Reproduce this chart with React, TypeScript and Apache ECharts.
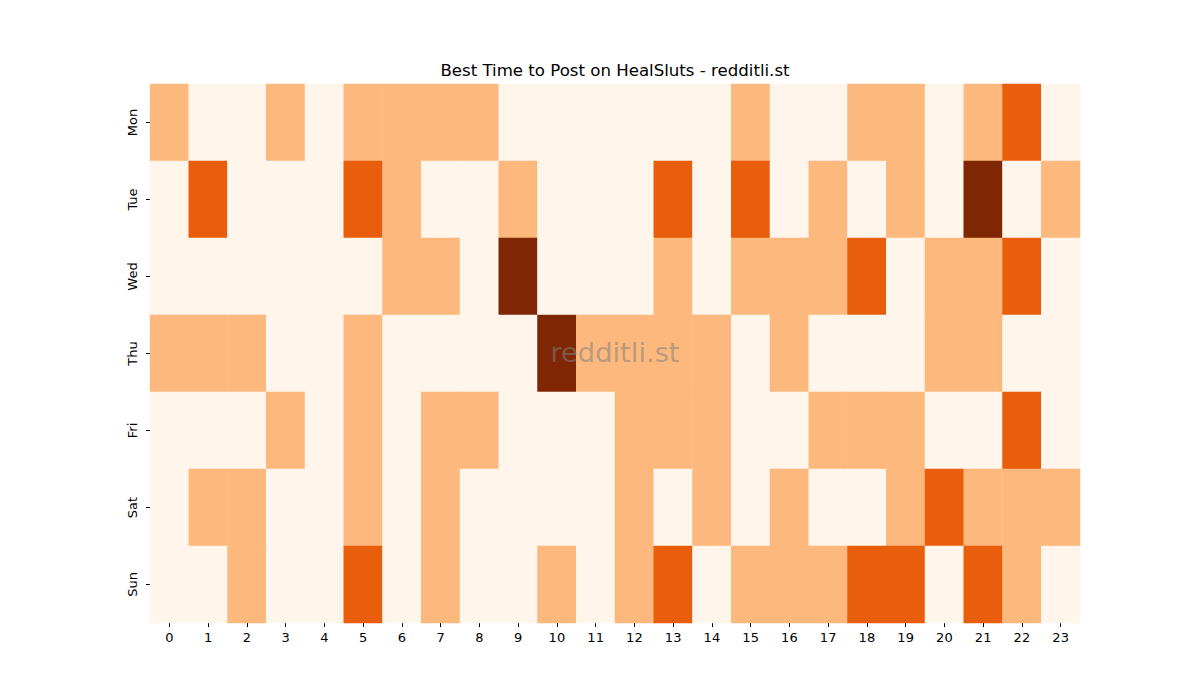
import React, { useEffect, useRef } from "react";
import * as echarts from "echarts";

const HOURS = Array.from({ length: 24 }, (_, i) => String(i));
const DAYS = ["Mon", "Tue", "Wed", "Thu", "Fri", "Sat", "Sun"];

// activity level per day (0..3), one entry per hour
const MON = [1, 0, 0, 1, 0, 1, 1, 1, 1, 0, 0, 0, 0, 0, 0, 1, 0, 0, 1, 1, 0, 1, 2, 0];
const TUE = [0, 2, 0, 0, 0, 2, 1, 0, 0, 1, 0, 0, 0, 2, 0, 2, 0, 1, 0, 1, 0, 3, 0, 1];
const WED = [0, 0, 0, 0, 0, 0, 1, 1, 0, 3, 0, 0, 0, 1, 0, 1, 1, 1, 2, 0, 1, 1, 2, 0];
const THU = [1, 1, 1, 0, 0, 1, 0, 0, 0, 0, 3, 1, 1, 1, 1, 0, 1, 0, 0, 0, 1, 1, 0, 0];
const FRI = [0, 0, 0, 1, 0, 1, 0, 1, 1, 0, 0, 0, 1, 1, 1, 0, 0, 1, 1, 1, 0, 0, 2, 0];
const SAT = [0, 1, 1, 0, 0, 1, 0, 1, 0, 0, 0, 0, 1, 0, 1, 0, 1, 0, 0, 1, 2, 1, 1, 1];
const SUN = [0, 0, 1, 0, 0, 2, 0, 1, 0, 0, 1, 0, 1, 2, 0, 1, 1, 1, 2, 2, 0, 2, 1, 0];

const LEVEL_COLORS = ["#fff5eb", "#fdb97d", "#e95e0d", "#7f2704"];
const FONT = "DejaVu Sans";

const App: React.FC = () => {
    const ref = useRef<HTMLDivElement | null>(null);

    useEffect(() => {
        if (!ref.current) return;
        const inst = echarts.init(ref.current, undefined, { renderer: "svg" });

        const rows = [MON, TUE, WED, THU, FRI, SAT, SUN];
        const data: number[][] = [];
        rows.forEach((row, d) => row.forEach((v, h) => data.push([h, d, v])));

        inst.setOption({
            animation: false,
            textStyle: { fontFamily: FONT },
            grid: { left: 150, top: 84, width: 930, height: 539 },
            xAxis: {
                type: "category",
                data: HOURS,
                axisLine: { show: false },
                axisTick: { show: true, alignWithLabel: true, length: 4, lineStyle: { color: "#000" } },
                axisLabel: { color: "#000", fontSize: 13, fontFamily: FONT, margin: 8 },
                splitLine: { show: false },
            },
            yAxis: {
                type: "category",
                data: DAYS,
                inverse: true,
                axisLine: { show: false },
                axisTick: { show: true, alignWithLabel: true, length: 4, lineStyle: { color: "#000" } },
                axisLabel: { color: "#000", fontSize: 13, fontFamily: FONT, rotate: 90, margin: 11 },
                splitLine: { show: false },
            },
            visualMap: {
                type: "piecewise",
                show: false,
                dimension: 2,
                pieces: LEVEL_COLORS.map((c, i) => ({ value: i, color: c })),
            },
            series: [
                {
                    type: "heatmap",
                    data,
                    itemStyle: { borderWidth: 0 },
                    emphasis: { disabled: true },
                },
            ],
            graphic: [
                {
                    type: "text",
                    x: 615,
                    y: 70,
                    style: {
                        text: "Best Time to Post on HealSluts - redditli.st",
                        fontSize: 16.6,
                        fontFamily: FONT,
                        fill: "#000",
                        align: "center",
                        verticalAlign: "middle",
                    },
                },
                {
                    type: "text",
                    x: 615,
                    y: 352,
                    z: 100,
                    style: {
                        text: "redditli.st",
                        fontSize: 27.3,
                        fontFamily: FONT,
                        fill: "rgba(128,128,128,0.55)",
                        align: "center",
                        verticalAlign: "middle",
                    },
                },
            ],
        });

        return () => inst.dispose();
    }, []);

    return (
        <div
            ref={ref}
            style={{ position: "absolute", left: 0, top: 0, width: 1200, height: 700, background: "#fff" }}
        />
    );
};

export default App;
